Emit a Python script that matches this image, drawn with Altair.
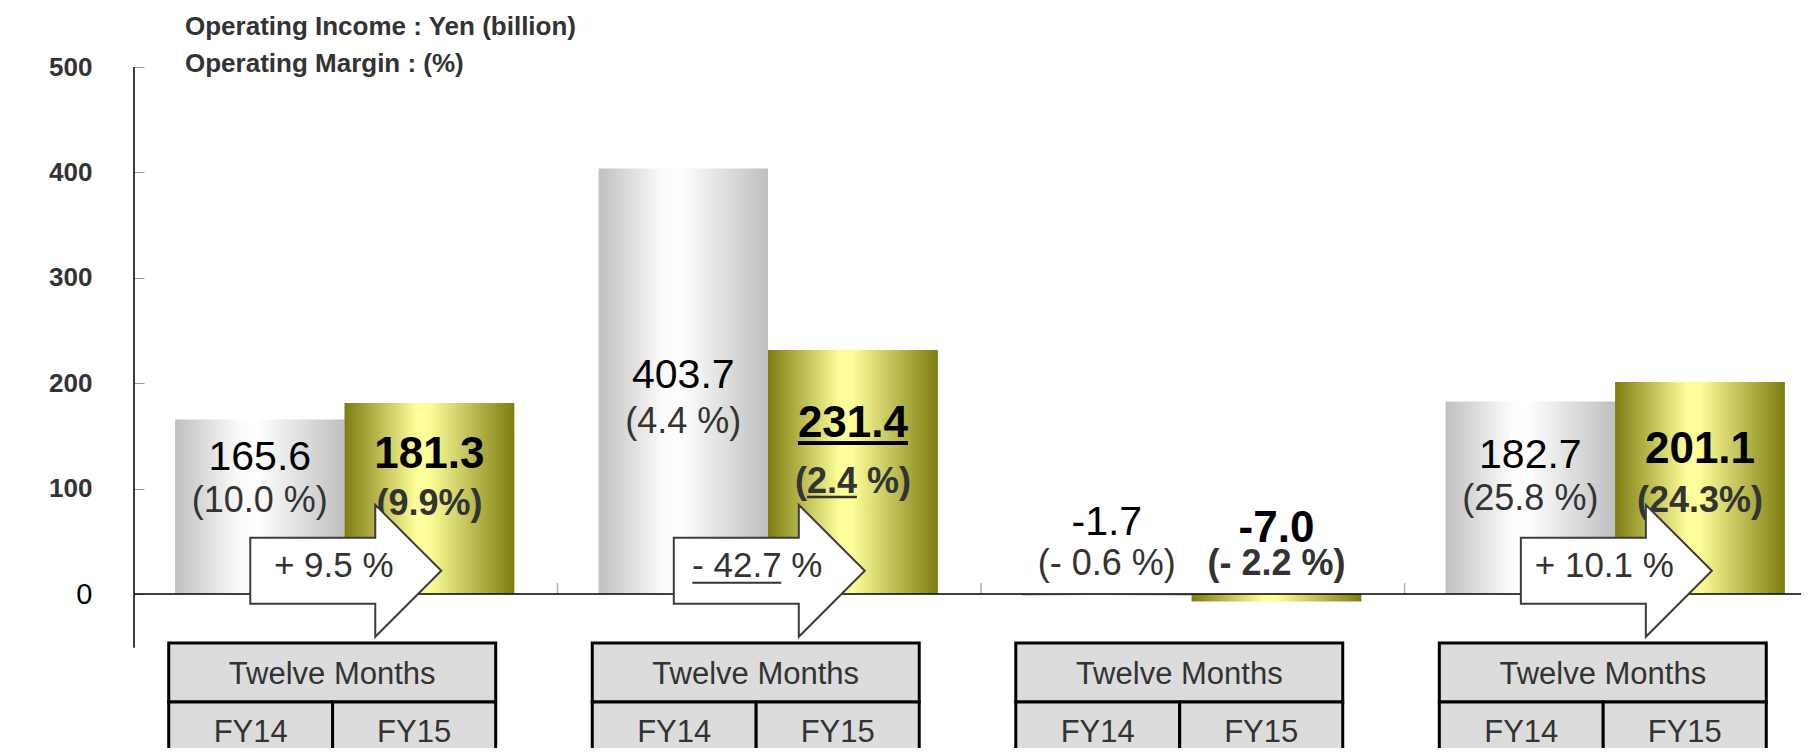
import altair as alt
import pandas as pd

# ---------------- data ----------------
GROUPS = [0, 1, 2, 3]
YEARS = ["FY14", "FY15"]
FY14_INCOME = [165.6, 403.7, -1.7, 182.7]
FY15_INCOME = [181.3, 231.4, -7.0, 201.1]
FY14_MARGIN = ["(10.0 %)", "(4.4 %)", "(- 0.6 %)", "(25.8 %)"]
FY15_MARGIN = ["(9.9%)", "(2.4 %)", "(- 2.2 %)", "(24.3%)"]
CHANGE = ["+ 9.5 %", "- 42.7 %", "", "+ 10.1 %"]
PERIOD = "Twelve Months"
Y_TICKS = [0, 100, 200, 300, 400, 500]
TITLE_LINES = ["Operating Income : Yen (billion)", "Operating Margin : (%)"]

# ---------------- layout (data units) ----------------
X_MAX = 3.936
BAR_SPAN = {"FY14": (0.097, 0.497), "FY15": (0.497, 0.898)}
FY14_VALUE_Y = [117.6, 195.4, 56.0, 119.5]
FY15_VALUE_Y = [119.5, 149.0, 49.3, 124.3]
FY14_MARGIN_Y = [77.8, 152.8, 18.0, 79.7]
FY15_MARGIN_Y = [75.0, 95.8, 18.0, 77.8]
ARROW_Y = 22
Y_AXIS_BOTTOM = -51
TABLE_X = (0.082, 0.469, 0.854)
TABLE_Y = (-46.5, -102.5, -175)
TABLE_HEAD_TEXT_Y = -76.9
TABLE_ROW_TEXT_Y = -131.9
BOUNDARY_TICK = 10.4

FONT = "Liberation Sans"
ARROW_PATH = "M-1,-0.3455L0.309,-0.3455L0.309,-0.691L1,0L0.309,0.691L0.309,0.3455L-1,0.3455Z"

XS = alt.Scale(domain=[0, X_MAX], nice=False, zero=False)
YS = alt.Scale(domain=[0, 500], nice=False, zero=False)
Y_AXIS = alt.Axis(
    values=Y_TICKS, domain=False, grid=False, ticks=True, tickSize=10,
    tickColor="#9a9a9a", tickWidth=1, offset=-10, labelPadding=42, title=None,
    labelFontSize=alt.condition("datum.value === 0", alt.value(29), alt.value(26)),
    labelFontWeight=alt.condition("datum.value === 0", alt.value("normal"), alt.value("bold")),
    labelColor=alt.condition("datum.value === 0", alt.value("#000000"), alt.value("#333333")),
)


def X(f):
    return alt.X(f, type="quantitative", scale=XS, axis=None)


def Y(f):
    return alt.Y(f, type="quantitative", scale=YS, axis=Y_AXIS)


def bar_frame(year, values, margins, vy, my):
    lo, hi = BAR_SPAN[year]
    return pd.DataFrame({
        "g": GROUPS,
        "x1": [g + lo for g in GROUPS],
        "x2": [g + hi for g in GROUPS],
        "xc": [g + (lo + hi) / 2 for g in GROUPS],
        "value": values,
        "base": [0] * len(GROUPS),
        "label": [f"{v:.1f}" for v in values],
        "margin": margins,
        "vy": vy,
        "my": my,
    })


d14 = bar_frame("FY14", FY14_INCOME, FY14_MARGIN, FY14_VALUE_Y, FY14_MARGIN_Y)
d15 = bar_frame("FY15", FY15_INCOME, FY15_MARGIN, FY15_VALUE_Y, FY15_MARGIN_Y)

grad14 = {"gradient": "linear", "x1": 0, "x2": 1, "y1": 0, "y2": 0,
          "stops": [{"offset": 0, "color": "#c0c0c0"},
                    {"offset": 0.38, "color": "#fbfbfb"},
                    {"offset": 0.48, "color": "#ffffff"},
                    {"offset": 1, "color": "#bfbfbf"}]}
grad15 = {"gradient": "linear", "x1": 0, "x2": 1, "y1": 0, "y2": 0,
          "stops": [{"offset": 0, "color": "#7d7d10"},
                    {"offset": 0.42, "color": "#fdfd99"},
                    {"offset": 0.5, "color": "#fdfd99"},
                    {"offset": 1, "color": "#7d7d10"}]}

bars14 = alt.Chart(d14).mark_bar(color=grad14).encode(
    x=X("x1"), x2=alt.X2("x2"), y=Y("value"), y2=alt.Y2("base"))
bars15 = alt.Chart(d15).mark_bar(color=grad15).encode(
    x=X("x1"), x2=alt.X2("x2"), y=Y("value"), y2=alt.Y2("base"))

zero_df = pd.DataFrame({"x": [0], "x2": [X_MAX], "y": [0]})
zero_line = alt.Chart(zero_df).mark_rule(color="black", strokeWidth=1.5).encode(
    x=X("x"), x2=alt.X2("x2"), y=Y("y"))

axis_df = pd.DataFrame({"x": [0], "y": [Y_AXIS_BOTTOM], "y2": [500]})
axis_line = alt.Chart(axis_df).mark_rule(color="black", strokeWidth=1.5).encode(
    x=X("x"), y=Y("y"), y2=alt.Y2("y2"))

bt_df = pd.DataFrame({"x": GROUPS[1:], "y": [0] * 3, "y2": [BOUNDARY_TICK] * 3})
boundary_ticks = alt.Chart(bt_df).mark_rule(color="#b0b0b0", strokeWidth=1.5).encode(
    x=X("x"), y=Y("y"), y2=alt.Y2("y2"))


def text_layer(df, yfield, tfield, **style):
    return alt.Chart(df).mark_text(align="center", baseline="alphabetic", **style).encode(
        x=X("xc"), y=Y(yfield), text=alt.Text(tfield + ":N"))


v14 = text_layer(d14, "vy", "label", fontSize=41, color="#000000")
m14 = text_layer(d14, "my", "margin", fontSize=36, color="#333333")
v15 = text_layer(d15, "vy", "label", fontSize=44, fontWeight="bold", color="#000000")
m15 = text_layer(d15, "my", "margin", fontSize=36, fontWeight="bold", color="#333333")

arrow_df = pd.DataFrame({
    "xc": [g + 0.5 for g, c in zip(GROUPS, CHANGE) if c],
    "y": [ARROW_Y for c in CHANGE if c],
    "text": [c for c in CHANGE if c],
})
arrows = alt.Chart(arrow_df).mark_point(
    shape=ARROW_PATH, size=36481, filled=True, fill="white", stroke="#3c3c3c",
    strokeWidth=2, opacity=1).encode(x=X("xc"), y=Y("y"))
arrow_text = alt.Chart(arrow_df).mark_text(
    align="center", baseline="alphabetic", dx=-12, dy=6, fontSize=35, color="#333333").encode(
    x=X("xc"), y=Y("y"), text="text:N")

# underlines: (x anchor, y anchor, dx1, dx2, dy, width, color)
UNDERLINES = [
    (1 + sum(BAR_SPAN["FY15"]) / 2, FY15_VALUE_Y[1], -55, 55, 6, 4, "#000000"),
    (1 + sum(BAR_SPAN["FY15"]) / 2, FY15_MARGIN_Y[1], -46, 4, 4, 2.5, "#333333"),
    (1.5, ARROW_Y, -77, 12, 12, 2, "#333333"),
]
underline_layers = []
for ax, ay, d1, d2, dy, w, c in UNDERLINES:
    udf = pd.DataFrame({"x": [ax], "y": [ay]})
    underline_layers.append(
        alt.Chart(udf).mark_rule(xOffset=d1, x2Offset=d2, yOffset=dy, strokeWidth=w, color=c).encode(
            x=X("x"), x2=alt.X2("x"), y=Y("y")))

# table
tl, tm, tr = TABLE_X
t0, t1, t2 = TABLE_Y
cells = []
for g in GROUPS:
    cells.append({"x": g + tl, "x2": g + tr, "y": t0, "y2": t1})
    cells.append({"x": g + tl, "x2": g + tm, "y": t1, "y2": t2})
    cells.append({"x": g + tm, "x2": g + tr, "y": t1, "y2": t2})
cells_df = pd.DataFrame(cells)
table = alt.Chart(cells_df).mark_rect(fill="#dcdcdc", stroke="black", strokeWidth=3).encode(
    x=X("x"), x2=alt.X2("x2"), y=Y("y"), y2=alt.Y2("y2"))

ttext = []
for g in GROUPS:
    ttext.append({"xc": g + (tl + tr) / 2, "y": TABLE_HEAD_TEXT_Y, "t": PERIOD})
    ttext.append({"xc": g + (tl + tm) / 2, "y": TABLE_ROW_TEXT_Y, "t": YEARS[0]})
    ttext.append({"xc": g + (tm + tr) / 2, "y": TABLE_ROW_TEXT_Y, "t": YEARS[1]})
ttext_df = pd.DataFrame(ttext)
table_text = alt.Chart(ttext_df).mark_text(
    align="center", baseline="middle", fontSize=31, color="#333333").encode(
    x=X("xc"), y=Y("y"), text="t:N")

chart = alt.layer(
    bars14, bars15, boundary_ticks, zero_line, axis_line,
    v14, m14, v15, m15,
    arrows, arrow_text, *underline_layers,
    table, table_text,
).properties(
    width=1667, height=527,
    padding={"left": 126, "top": 59, "right": 0, "bottom": 154},
    autosize=alt.AutoSizeParams(type="none"),
    title=alt.TitleParams(
        text=TITLE_LINES, anchor="start", frame="group", dx=51, dy=44, offset=0,
        baseline="alphabetic", fontSize=26, fontWeight="bold", color="#333333",
        lineHeight=37, font=FONT),
).configure(font=FONT).configure_view(stroke=None)

chart.save("out.html", embed_options={"renderer": "svg", "actions": False})
